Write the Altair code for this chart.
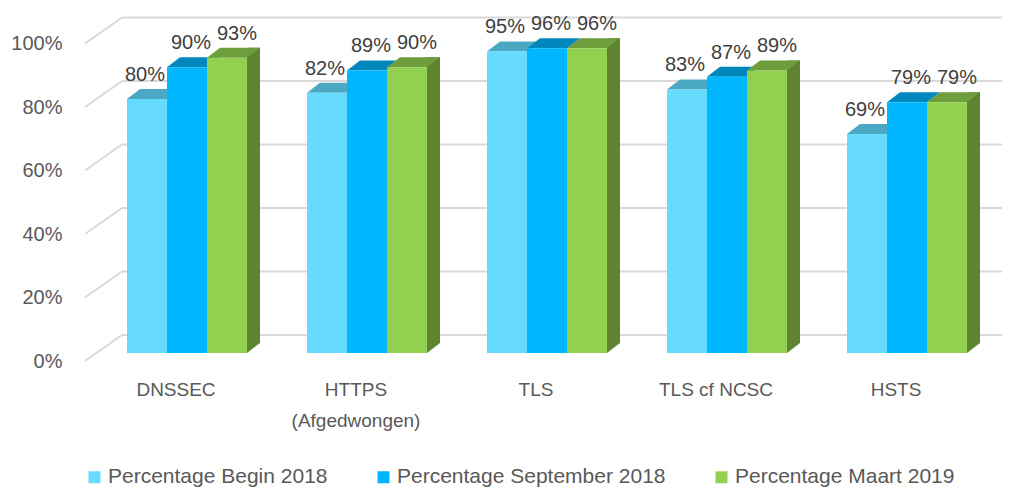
import altair as alt
import pandas as pd

# ---- data ----
categories = ["DNSSEC", "HTTPS|(Afgedwongen)", "TLS", "TLS cf NCSC", "HSTS"]
series_names = ["Percentage Begin 2018", "Percentage September 2018", "Percentage Maart 2019"]
begin_2018 = [80, 82, 95, 83, 69]
september_2018 = [90, 89, 96, 87, 79]
maart_2019 = [93, 90, 96, 89, 79]
tick_values = [0, 20, 40, 60, 80, 100]

# ---- styles ----
front_colors = ["#66DAFF", "#00B6FF", "#92D050"]
top_colors = ["#4BA8C3", "#0088BC", "#6E9D3C"]
side_color = "#5E8431"
grid_color = "#D9D9D9"
FONT = "Liberation Sans"

rows = []
for s, vals in zip(series_names, [begin_2018, september_2018, maart_2019]):
    for c, v in zip(categories, vals):
        rows.append({"cat": c, "series": s, "value": v})
df = pd.DataFrame(rows)
grid_df = pd.DataFrame({"tick": tick_values})

xscale = alt.Scale(paddingInner=1 / 3, paddingOuter=1 / 6)
yscale = alt.Scale(domain=[0, 100], nice=False)
xo = alt.XOffset("series:N", sort=series_names, scale=alt.Scale(domain=series_names))

x_axis = alt.Axis(
    labelExpr="split(datum.label, '|')", labelAngle=0, labelFontSize=19,
    labelColor="#595959", labelFont=FONT, labelPadding=27, labelOffset=-11,
    labelLineHeight=31, domain=False, ticks=False, tickSize=0, grid=False,
    labelBaseline="top",
)
y_axis = alt.Axis(
    values=tick_values, labelExpr="datum.value + '%'", labelFontSize=20,
    labelColor="#595959", labelFont=FONT, labelPadding=35, labelOffset=8,
    domain=False, ticks=False, tickSize=0, grid=False,
)


def X(**kw):
    return alt.X("cat:N", sort=categories, scale=xscale, axis=x_axis, title=None, **kw)


def Y(field="value:Q"):
    return alt.Y(field, scale=yscale, axis=y_axis, title=None)


base = alt.Chart(df)

# left wall diagonals
diag = alt.Chart(grid_df).mark_rule(
    color=grid_color, strokeWidth=2, yOffset=8, y2Offset=-18
).encode(
    x=alt.value(-12), x2=alt.value(25), y=Y("tick:Q"), y2=alt.Y2("tick")
)
# back wall grid lines
back = alt.Chart(grid_df).mark_rule(
    color=grid_color, strokeWidth=2, yOffset=-18
).encode(
    x=alt.value(25), x2=alt.value(908), y=Y("tick:Q")
)

green = series_names[2]
# right side face of the last bar in each group (at the band's right edge)
side = base.transform_filter(alt.datum.series == green).transform_calculate(
    zero="0"
).mark_rule(
    strokeWidth=13, strokeCap="butt", xOffset=6.5, yOffset=-10, y2Offset=-10,
    color=side_color,
).encode(x=X(bandPosition=1), y=Y(), y2=alt.Y2("zero:Q"))

tops = []
for s, col in zip(series_names, top_colors):
    tops.append(
        base.transform_filter(alt.datum.series == s).mark_point(
            shape="M -20 0 L 20 0 L 33 -10 L -7 -10 Z",
            size=4, filled=True, fill=col, opacity=1, strokeWidth=0,
        ).encode(x=X(), xOffset=xo, y=Y())
    )

front = base.mark_bar().encode(
    x=X(),
    xOffset=xo,
    y=Y(),
    color=alt.Color(
        "series:N", sort=series_names,
        scale=alt.Scale(domain=series_names, range=front_colors),
        legend=alt.Legend(
            orient="none", legendX=-13, legendY=431, direction="horizontal",
            title=None, symbolType="square", symbolSize=144, symbolStrokeWidth=0,
            symbolOpacity=1, labelFontSize=21, labelColor="#595959", labelFont=FONT,
            columnPadding=45, labelOffset=3, labelLimit=500,
        ),
    ),
)

corner = base.transform_filter(alt.datum.series == green).transform_calculate(
    zero="0"
).mark_point(
    shape="M 20 -10 L 20 0 L 33 -10 Z", size=4, filled=True, fill=side_color,
    opacity=1, strokeWidth=0,
).encode(x=X(), xOffset=xo, y=Y("zero:Q"))

texts = []
for s, dx in zip(series_names, [-2, 4, 10]):
    texts.append(
        base.transform_filter(alt.datum.series == s).transform_calculate(
            label="datum.value + '%'"
        ).mark_text(
            dx=dx, dy=-24, baseline="middle", fontSize=20, color="#404040", font=FONT
        ).encode(x=X(), xOffset=xo, y=Y(), text="label:N")
    )

chart = alt.layer(diag, back, side, *tops, front, corner, *texts).properties(
    width=900,
    height=317.5,
    autosize=alt.AutoSizeParams(type="none"),
    padding={"left": 89, "top": 27.5, "right": 5, "bottom": 135},
).configure_view(stroke=None)

chart.save("out.html", embed_options={"renderer": "svg", "actions": False})
